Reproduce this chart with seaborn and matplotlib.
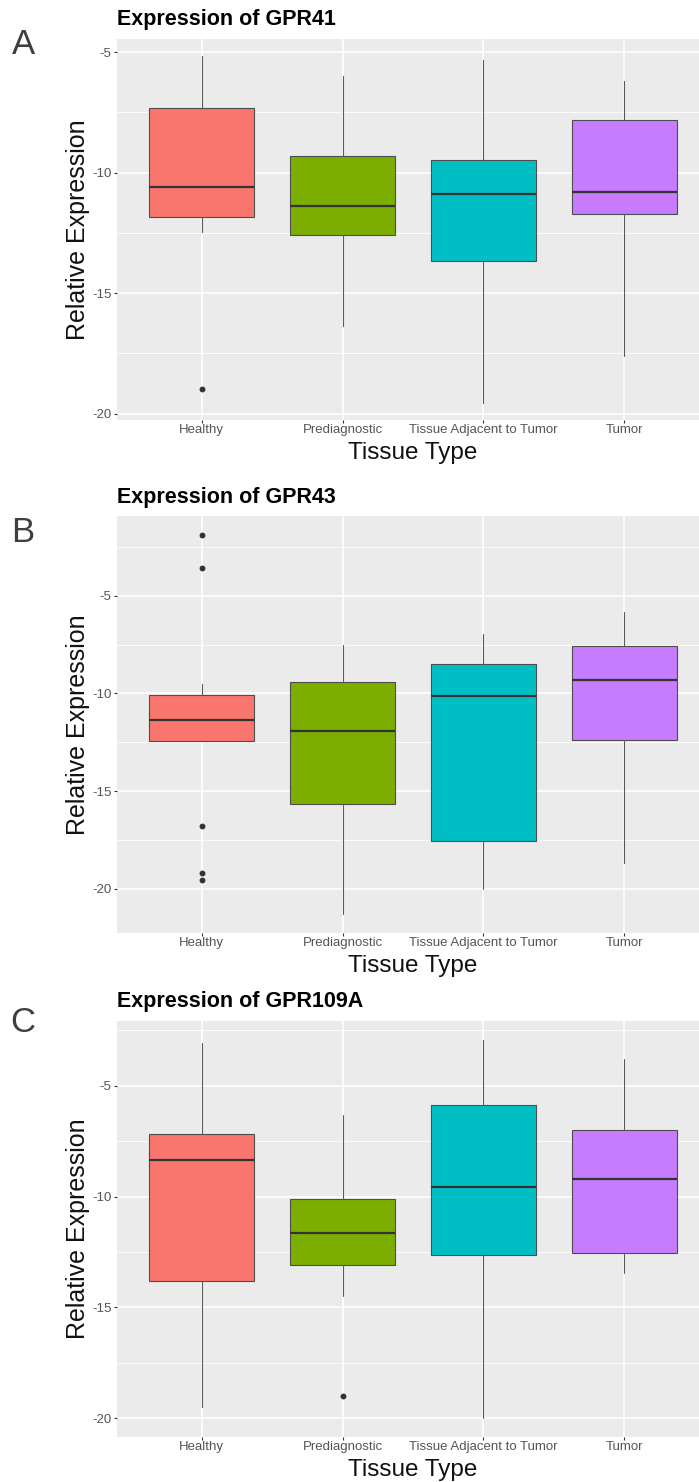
import matplotlib
matplotlib.use("Agg")
import matplotlib.pyplot as plt
from matplotlib.ticker import MultipleLocator
import seaborn as sns

# ---------------- data ----------------
categories = ["Healthy", "Prediagnostic", "Tissue Adjacent to Tumor", "Tumor"]
palette = ["#F8766D", "#7CAE00", "#00BFC4", "#C77CFF"]

gpr41_whislo = [-12.48, -16.38, -19.55, -17.6]
gpr41_q1 = [-11.86, -12.6, -13.68, -11.73]
gpr41_med = [-10.61, -11.4, -10.9, -10.82]
gpr41_q3 = [-7.33, -9.32, -9.49, -7.83]
gpr41_whishi = [-5.17, -6.0, -5.33, -6.2]
gpr41_fliers = [[-19.0], [], [], []]

gpr43_whislo = [-12.43, -21.3, -20.0, -18.68]
gpr43_q1 = [-12.43, -15.65, -17.55, -12.37]
gpr43_med = [-11.35, -11.9, -10.12, -9.3]
gpr43_q3 = [-10.1, -9.4, -8.48, -7.56]
gpr43_whishi = [-9.5, -7.5, -6.95, -5.82]
gpr43_fliers = [[-1.88, -3.57, -16.8, -19.2, -19.55], [], [], []]

gpr109a_whislo = [-19.5, -14.5, -20.0, -13.43]
gpr109a_q1 = [-13.82, -13.1, -12.66, -12.57]
gpr109a_med = [-8.33, -11.63, -9.55, -9.19]
gpr109a_q3 = [-7.16, -10.09, -5.86, -6.98]
gpr109a_whishi = [-3.06, -6.3, -2.93, -3.78]
gpr109a_fliers = [[], [-19.0], [], []]

titles = ["Expression of GPR41", "Expression of GPR43", "Expression of GPR109A"]
panel_letters = ["A", "B", "C"]
x_title = "Tissue Type"
y_title = "Relative Expression"
y_ticks = [-5, -10, -15, -20]

panels = [
    (gpr41_whislo, gpr41_q1, gpr41_med, gpr41_q3, gpr41_whishi, gpr41_fliers),
    (gpr43_whislo, gpr43_q1, gpr43_med, gpr43_q3, gpr43_whishi, gpr43_fliers),
    (gpr109a_whislo, gpr109a_q1, gpr109a_med, gpr109a_q3, gpr109a_whishi, gpr109a_fliers),
]

# ---------------- style ----------------
sns.set_theme(style="darkgrid", rc={"axes.facecolor": "#EBEBEB", "grid.color": "white"})
plt.rcParams["font.family"] = ["Liberation Sans", "DejaVu Sans"]

W, H = 699, 1482
fig = plt.figure(figsize=(W / 100, H / 100), dpi=100)
fig.patch.set_facecolor("white")

# panel boxes in pixels: (top, bottom)
left_px, right_px = 117, 709
panel_px = [(39, 420), (516, 933), (1021, 1437)]
title_y_px = [20, 497, 1001]
letter_y_px = [44, 532, 1022]

for i, (stats_src, (top, bot)) in enumerate(zip(panels, panel_px)):
    ax = fig.add_axes([left_px / W, 1 - bot / H, (right_px - left_px) / W, (bot - top) / H])
    whislo, q1, med, q3, whishi, fliers = stats_src
    stats = []
    for j in range(len(categories)):
        stats.append(dict(whislo=whislo[j], q1=q1[j], med=med[j], q3=q3[j],
                          whishi=whishi[j], fliers=fliers[j], label=categories[j]))
    positions = [j + 1 for j in range(len(categories))]
    bp = ax.bxp(stats, positions=positions, widths=0.75, patch_artist=True,
                showcaps=False, showfliers=True,
                boxprops=dict(edgecolor="#4d4d4d", linewidth=0.8),
                whiskerprops=dict(color="#5a5a5a", linewidth=0.8),
                medianprops=dict(color="#333333", linewidth=1.6),
                flierprops=dict(marker="o", markersize=3.2, markerfacecolor="#333333",
                                markeredgecolor="#333333", linestyle="none"))
    for patch, c in zip(bp["boxes"], palette):
        patch.set_facecolor(c)

    # ggplot-like 5% expansion of y range
    allv = whislo + whishi + [v for f in fliers for v in f]
    lo, hi = min(allv), max(allv)
    pad = 0.05 * (hi - lo)
    ax.set_ylim(lo - pad, hi + pad)
    ax.set_xlim(0.4, 4.6)

    ax.set_yticks(y_ticks)
    ax.set_yticklabels([f"{t}" for t in y_ticks])
    ax.yaxis.set_minor_locator(MultipleLocator(2.5))
    ax.grid(which="major", color="white", linewidth=1.2)
    ax.grid(which="minor", axis="y", color="white", linewidth=0.6)
    ax.set_axisbelow(True)
    for s in ax.spines.values():
        s.set_visible(False)
    ax.tick_params(which="major", length=2.5, width=0.8, color="#333333",
                   labelsize=9.5, labelcolor="#555555", bottom=True, left=True)
    ax.tick_params(axis="x", which="major", pad=0.3)
    ax.tick_params(axis="y", which="major", pad=1.5)
    ax.tick_params(which="minor", length=0)

    ax.set_xlabel(x_title, fontsize=17.5, color="#111111")
    ax.xaxis.set_label_coords(0.5, -39 / (bot - top))
    ax.xaxis.label.set_va("baseline")
    ax.set_ylabel(y_title, fontsize=18, color="#111111")
    ax.yaxis.set_label_coords(-(117 - 78) / (right_px - left_px), 0.5)
    ax.yaxis.label.set_va("center")

    fig.text(left_px / W, 1 - title_y_px[i] / H, titles[i], fontsize=15.5,
             fontweight="bold", color="black", ha="left", va="center")
    fig.text(23 / W, 1 - letter_y_px[i] / H, panel_letters[i], fontsize=25,
             color="#3f3f3f", ha="center", va="center")

fig.savefig("out.png", dpi=100)
